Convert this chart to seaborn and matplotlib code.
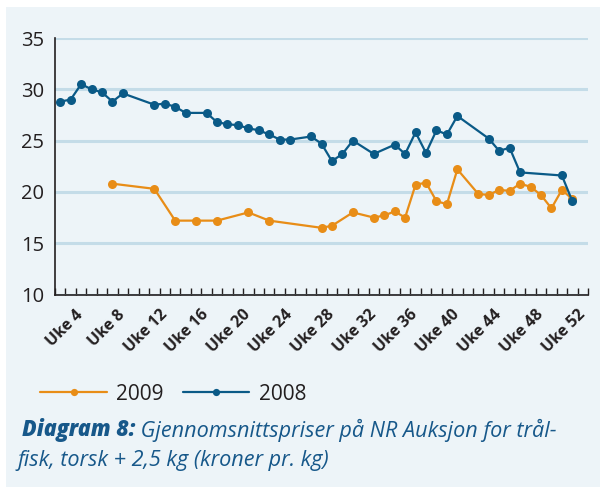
import numpy as np
import pandas as pd
import seaborn as sns
import matplotlib.pyplot as plt
from matplotlib.patches import Rectangle
from matplotlib.ticker import FixedLocator

# Data, week numbers and prices (kroner pr. kg)
weeks_2008 = [2, 3, 4, 5, 6, 7, 8, 11, 12, 13, 14, 16, 17, 18, 19, 20, 21, 22, 23, 24,
              26, 27, 28, 29, 30, 32, 34, 35, 36, 37, 38, 39, 40, 43, 44, 45, 46, 50, 51]
price_2008 = [28.8, 29.0, 30.5, 30.0, 29.7, 28.8, 29.6, 28.5, 28.6, 28.3, 27.7, 27.7, 26.8,
              26.6, 26.5, 26.2, 26.0, 25.6, 25.1, 25.1, 25.4, 24.7, 23.0, 23.7, 25.0, 23.7,
              24.6, 23.7, 25.8, 23.8, 26.0, 25.6, 27.4, 25.2, 24.0, 24.3, 21.9, 21.6, 19.1]

weeks_2009 = [7, 11, 13, 15, 17, 20, 22, 27, 28, 30, 32, 33, 34, 35, 36, 37, 38, 39, 40,
              42, 43, 44, 45, 46, 47, 48, 49, 50, 51]
price_2009 = [20.8, 20.3, 17.2, 17.2, 17.2, 18.0, 17.2, 16.5, 16.7, 18.0, 17.5, 17.7, 18.1,
              17.5, 20.7, 20.9, 19.1, 18.8, 22.2, 19.8, 19.7, 20.2, 20.1, 20.8, 20.5, 19.7,
              18.4, 20.2, 19.3]

tick_weeks = list(range(4, 53, 4))
tick_labels = [f"Uke {w}" for w in tick_weeks]
y_ticks = [10, 15, 20, 25, 30, 35]

series_order = ["2009", "2008"]
colors = {"2009": "#E88D17", "2008": "#0A5A87"}

panel = "#EDF4F8"
grid_col = "#C4DCE8"
caption_col = "#17588A"

df = pd.concat([
    pd.DataFrame({"week": weeks_2009, "price": price_2009, "year": "2009"}),
    pd.DataFrame({"week": weeks_2008, "price": price_2008, "year": "2008"}),
], ignore_index=True)

sns.set_theme(style="white")
plt.rcParams["font.family"] = ["Open Sans", "DejaVu Sans"]

fig = plt.figure(figsize=(6, 4.87), dpi=100)
fig.patch.set_facecolor("white")
fig.patches.append(Rectangle((6 / 600, 0), 1, 1 - 7 / 487, transform=fig.transFigure,
                             facecolor=panel, edgecolor="none", zorder=-5))

ax = fig.add_axes([55 / 600, 1 - 294.5 / 487, 533 / 600, 256.5 / 487])
ax.set_facecolor(panel)

sns.lineplot(data=df, x="week", y="price", hue="year", hue_order=series_order,
             palette=colors, marker="o", markersize=6.5, markeredgewidth=0,
             linewidth=1.6, sort=True, ax=ax, zorder=3)

ax.set_xlim(1.5, 52.5)
ax.set_ylim(10, 35)
ax.set_yticks(y_ticks)
ax.grid(axis="y", color=grid_col, linewidth=2.2)
ax.set_axisbelow(True)

ax.set_xticks(tick_weeks)
ax.set_xticklabels(tick_labels, rotation=45, ha="right", va="center",
                   rotation_mode="anchor", fontsize=11.5, fontweight="bold",
                   color="#231F20")
ax.xaxis.set_minor_locator(FixedLocator(np.arange(1.5, 53, 1.0)))
ax.tick_params(axis="x", which="major", length=0, pad=13)
ax.tick_params(axis="x", which="minor", direction="in", length=5, width=1,
               color="#231F20", bottom=True)
ax.tick_params(axis="y", length=0, pad=8, labelsize=14.5, labelcolor="#231F20")

for s in ["top", "right"]:
    ax.spines[s].set_visible(False)
for s in ["left", "bottom"]:
    ax.spines[s].set_color("#231F20")
    ax.spines[s].set_linewidth(1.2)
ax.set_xlabel("")
ax.set_ylabel("")

handles, labels = ax.get_legend_handles_labels()
ax.legend_.remove()
fig.legend(handles, labels, loc="center left", bbox_to_anchor=(32 / 600, 1 - 394 / 487),
           ncol=2, frameon=False, fontsize=15, handlelength=3.2, handletextpad=0.45,
           columnspacing=0.9, borderaxespad=0, labelcolor="#231F20", markerscale=0.8)

cap_font = ["Open Sans", "DejaVu Sans"]
t1 = fig.text(22 / 600, 1 - 436 / 487, "Diagram 8:", fontsize=15.5, fontstyle="italic",
              fontweight="heavy", color=caption_col, family=cap_font, va="baseline")
ax.annotate(" Gjennomsnittspriser på NR Auksjon for trål-", xy=(1, 0), xycoords=t1,
            va="bottom", ha="left", fontsize=15.6, fontstyle="italic",
            color=caption_col, family=cap_font, annotation_clip=False)
fig.text(17 / 600, 1 - 466 / 487, "fisk, torsk + 2,5 kg (kroner pr. kg)", fontsize=15.6,
         fontstyle="italic", color=caption_col, family=cap_font, va="baseline")

fig.savefig("out.png", dpi=100, facecolor=fig.get_facecolor())
